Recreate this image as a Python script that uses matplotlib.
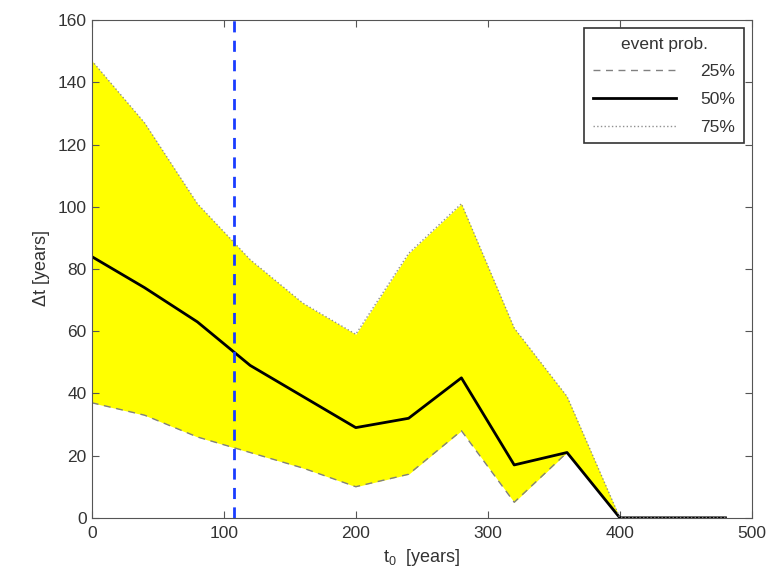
import matplotlib
matplotlib.use("Agg")
import matplotlib.pyplot as plt

plt.rcParams['font.family'] = ['Liberation Sans', 'DejaVu Sans']
plt.rcParams['mathtext.fontset'] = 'custom'
plt.rcParams['mathtext.rm'] = 'Liberation Sans'
plt.rcParams['mathtext.it'] = 'Liberation Sans'

t0 = [0, 40, 80, 120, 160, 200, 240, 280, 320, 360, 400, 440, 480]
p25 = [37, 33, 26, 21, 16, 10, 14, 28, 5, 21, 0, 0, 0]
p50 = [84, 74, 63, 49, 39, 29, 32, 45, 17, 21, 0, 0, 0]
p75 = [147, 127, 101, 83, 69, 59, 85, 101, 61, 39, 0, 0, 0]
t_marker = 108

fig = plt.figure(figsize=(7.84, 5.76), dpi=100)
ax = fig.add_axes([0.117, 0.101, 0.842, 0.864])

ax.fill_between(t0, p25, p75, color='#ffff00', linewidth=0)
ax.plot(t0, p25, linestyle='--', dashes=(5, 4), color='#808080', linewidth=1, label='25%')
ax.plot(t0, p50, linestyle='-', color='black', linewidth=2, label='50%')
ax.plot(t0, p75, linestyle=':', color='#909090', linewidth=1, label='75%')
ax.axvline(t_marker, color='#1a3cff', linestyle='--', linewidth=2, dashes=(4, 3))

ax.set_xlim(0, 500)
ax.set_ylim(0, 160)
ax.set_xticks(range(0, 501, 100))
ax.set_yticks(range(0, 161, 20))
ax.tick_params(direction='in', top=True, right=True, labelsize=12.5, length=5,
               color='#555555', labelcolor='#333333')
ax.tick_params(axis='x', pad=6)
for s in ax.spines.values():
    s.set_color('#555555')

ax.set_xlabel(r'$\mathregular{t_0}$  [years]', fontsize=13, color='#333333')
ax.set_ylabel(r'$\Delta$t [years]', fontsize=13, color='#333333')

leg = ax.legend(title='event prob.', loc='upper right', fancybox=False,
                fontsize=12.5, title_fontsize=12.5, markerfirst=True,
                handlelength=4.8, handletextpad=1.4, labelspacing=0.72,
                borderpad=0.5, borderaxespad=0.45, framealpha=1)
leg.get_frame().set_edgecolor('#333333')
leg.get_frame().set_linewidth(1.2)
for txt in leg.get_texts():
    txt.set_color('#333333')
leg.get_title().set_color('#333333')

fig.savefig('out.png', dpi=100)
